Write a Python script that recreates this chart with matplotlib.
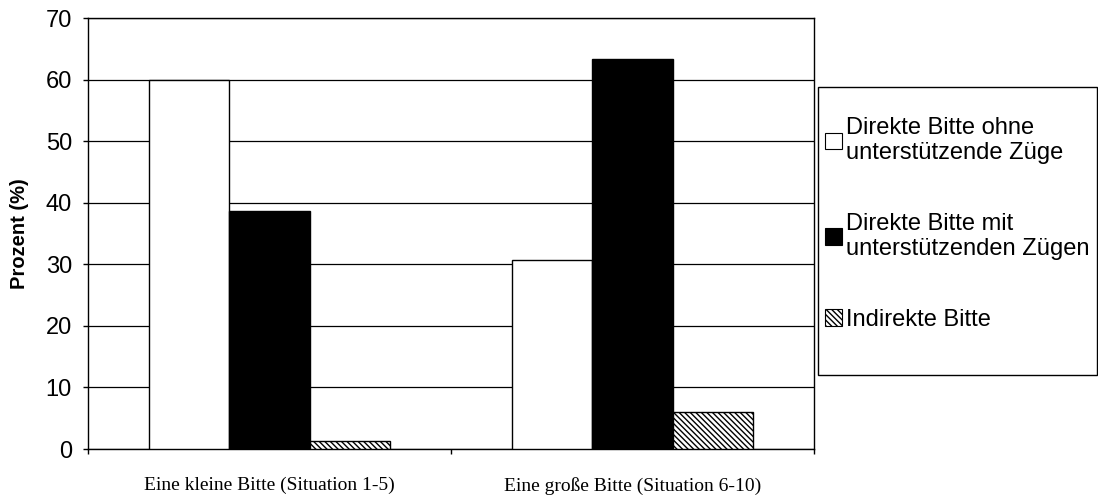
import matplotlib
matplotlib.use("Agg")
import matplotlib.pyplot as plt
from matplotlib.patches import Patch, Rectangle
import numpy as np

categories = ["Eine kleine Bitte (Situation 1-5)", "Eine große Bitte (Situation 6-10)"]
series_names = ["Direkte Bitte ohne\nunterstützende Züge",
                "Direkte Bitte mit\nunterstützenden Zügen",
                "Indirekte Bitte"]
ohne_zuege = [60.0, 30.7]
mit_zuegen = [38.7, 63.3]
indirekt = [1.3, 6.0]

faces = ["white", "black", "white"]
hatches = [None, None, "\\" * 6]

plt.rcParams["hatch.linewidth"] = 1.0

W, H = 1098, 499
fig = plt.figure(figsize=(W / 100, H / 100), dpi=100)
ax = fig.add_axes([88 / W, 1 - 449 / H, (814 - 88) / W, (449 - 18) / H])

x = np.arange(len(categories))
width = 0.222
values = [ohne_zuege, mit_zuegen, indirekt]
for i, (vals, fc, h) in enumerate(zip(values, faces, hatches)):
    ax.bar(x + (i - 1) * width, vals, width, color=fc, edgecolor="black",
           linewidth=1.0, hatch=h, zorder=3)

ax.set_xlim(-0.5, 1.5)
ax.set_ylim(0, 70)
ax.set_yticks(np.arange(0, 71, 10))
ax.yaxis.grid(True, color="black", linewidth=0.9, zorder=0)
ax.tick_params(axis="y", labelsize=17, length=3.6, width=1, direction="out", pad=8)
for lab in ax.get_yticklabels():
    lab.set_fontfamily("Liberation Sans")

ax.set_xticks(x)
ax.set_xticklabels(categories, fontfamily="Liberation Serif", fontsize=14)
ax.tick_params(axis="x", which="major", length=0, pad=20)
ax.set_xticks([-0.5, 0.5, 1.5], minor=True)
ax.tick_params(axis="x", which="minor", length=3.6, width=1, direction="out")

for s in ax.spines.values():
    s.set_color("black")
    s.set_linewidth(1.0)

ax.set_ylabel("Prozent (%)", fontfamily="Liberation Sans", fontsize=14.5,
              fontweight="bold", labelpad=12)

# legend box
fig.add_artist(Rectangle((818 / W, 1 - 375 / H), (1097 - 818) / W, (375 - 87) / H,
                         transform=fig.transFigure, facecolor="white",
                         edgecolor="black", linewidth=1.0))

handles = [Patch(facecolor=fc, edgecolor="black", hatch=h, linewidth=0.8)
           for fc, h in zip(faces, hatches)]
leg = fig.legend(handles, series_names, loc="upper left",
                 bbox_to_anchor=(825 / W, 1 - 117 / H),
                 prop={"family": "Liberation Sans", "size": 17},
                 handlelength=0.7, handleheight=0.7, handletextpad=0.2,
                 labelspacing=2.05, borderpad=0, borderaxespad=0,
                 frameon=False)

fig.savefig("out.png", dpi=100, facecolor="white")
